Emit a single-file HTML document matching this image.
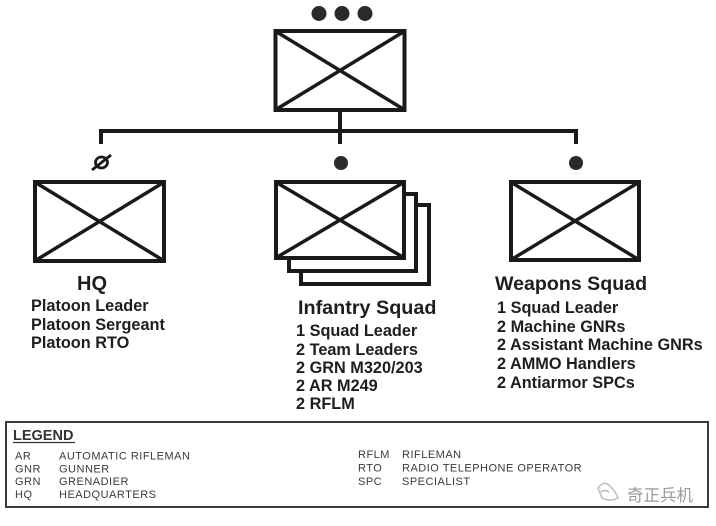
<!DOCTYPE html>
<html><head><meta charset="utf-8"><style>
html,body{margin:0;padding:0;background:#fff;}
svg{display:block;}
.t{font-family:"Liberation Sans",Arial,sans-serif;font-weight:bold;fill:#1e1e1e;}
.l{font-family:"Liberation Sans",Arial,sans-serif;fill:#3a3a3a;font-size:11px;letter-spacing:0.5px;}
</style></head><body>
<svg width="716" height="526" viewBox="0 0 716 526" xmlns="http://www.w3.org/2000/svg">
<rect width="716" height="526" fill="#fff"/>
<!-- top dots -->
<circle cx="319" cy="13.5" r="7.5" fill="#2a2a2a"/>
<circle cx="342" cy="13.5" r="7.5" fill="#2a2a2a"/>
<circle cx="365" cy="13.5" r="7.5" fill="#2a2a2a"/>
<g stroke="#1a1a1a" fill="none">
<!-- top box -->
<rect x="275.5" y="31" width="129" height="79" stroke-width="4" fill="#fff"/>
<line x1="276" y1="31.5" x2="404" y2="109.5" stroke-width="3.5"/>
<line x1="276" y1="109.5" x2="404" y2="31.5" stroke-width="3.5"/>
<!-- connectors -->
<line x1="340" y1="110" x2="340" y2="144" stroke-width="4"/>
<line x1="99" y1="131" x2="578" y2="131" stroke-width="4"/>
<line x1="101" y1="129" x2="101" y2="144" stroke-width="4"/>
<line x1="576" y1="129" x2="576" y2="144" stroke-width="4"/>
<!-- HQ box -->
<rect x="35" y="182" width="129" height="79" stroke-width="4" fill="#fff"/>
<line x1="35.5" y1="182.5" x2="163.5" y2="260.5" stroke-width="3.5"/>
<line x1="35.5" y1="260.5" x2="163.5" y2="182.5" stroke-width="3.5"/>
<!-- infantry stacked -->
<rect x="301" y="205" width="128" height="79" stroke-width="4" fill="#fff"/>
<rect x="289" y="194" width="127" height="77" stroke-width="4" fill="#fff"/>
<rect x="276" y="182" width="128" height="76" stroke-width="4" fill="#fff"/>
<line x1="276.5" y1="182.5" x2="403.5" y2="257.5" stroke-width="3.5"/>
<line x1="276.5" y1="257.5" x2="403.5" y2="182.5" stroke-width="3.5"/>
<!-- weapons box -->
<rect x="511" y="182" width="128" height="78" stroke-width="4" fill="#fff"/>
<line x1="511.5" y1="182.5" x2="638.5" y2="259.5" stroke-width="3.5"/>
<line x1="511.5" y1="259.5" x2="638.5" y2="182.5" stroke-width="3.5"/>
<!-- null symbol -->
<ellipse cx="101.5" cy="162.5" rx="6" ry="5.5" stroke-width="2.8"/>
<line x1="92" y1="170" x2="111" y2="155" stroke-width="2.8"/>
</g>
<circle cx="341" cy="163" r="7" fill="#2a2a2a"/>
<circle cx="576" cy="163" r="7" fill="#2a2a2a"/>
<!-- HQ text -->
<text class="t" x="92" y="290" font-size="20" text-anchor="middle">HQ</text>
<text class="t" x="31" y="311" font-size="16.3">Platoon Leader</text>
<text class="t" x="31" y="330" font-size="16.3">Platoon Sergeant</text>
<text class="t" x="31" y="348" font-size="16.3">Platoon RTO</text>
<!-- Infantry text -->
<text class="t" x="298" y="314" font-size="19.8">Infantry Squad</text>
<text class="t" x="296" y="336" font-size="16.3">1 Squad Leader</text>
<text class="t" x="296" y="355" font-size="16.3">2 Team Leaders</text>
<text class="t" x="296" y="373" font-size="16.3">2 GRN M320/203</text>
<text class="t" x="296" y="391" font-size="16.3">2 AR M249</text>
<text class="t" x="296" y="409" font-size="16.3">2 RFLM</text>
<!-- Weapons text -->
<text class="t" x="495" y="290" font-size="19.6">Weapons Squad</text>
<text class="t" x="497" y="313" font-size="16.3">1 Squad Leader</text>
<text class="t" x="497" y="332" font-size="16.3">2 Machine GNRs</text>
<text class="t" x="497" y="350" font-size="16.3">2 Assistant Machine GNRs</text>
<text class="t" x="497" y="369" font-size="16.3">2 AMMO Handlers</text>
<text class="t" x="497" y="388" font-size="16.3">2 Antiarmor SPCs</text>
<!-- legend -->
<rect x="6" y="422" width="702" height="85" fill="#fff" stroke="#3a3a3a" stroke-width="2"/>
<text x="13" y="440" font-family="Liberation Sans,Arial,sans-serif" font-weight="bold" font-size="14.5" fill="#333">LEGEND</text>
<line x1="13" y1="442.5" x2="75" y2="442.5" stroke="#333" stroke-width="1.2"/>
<text class="l" x="15" y="459.5">AR</text>
<text class="l" x="59" y="459.5">AUTOMATIC RIFLEMAN</text>
<text class="l" x="15" y="472.5">GNR</text>
<text class="l" x="59" y="472.5">GUNNER</text>
<text class="l" x="15" y="485">GRN</text>
<text class="l" x="59" y="485">GRENADIER</text>
<text class="l" x="15" y="498">HQ</text>
<text class="l" x="59" y="498">HEADQUARTERS</text>
<text class="l" x="358" y="458">RFLM</text>
<text class="l" x="402" y="458">RIFLEMAN</text>
<text class="l" x="358" y="471.5">RTO</text>
<text class="l" x="402" y="471.5">RADIO TELEPHONE OPERATOR</text>
<text class="l" x="358" y="485">SPC</text>
<text class="l" x="402" y="485">SPECIALIST</text>
<!-- watermark -->
<g stroke="#bbb" fill="none" stroke-width="1.5">
<path d="M598 488 q6 -8 12 -2 q6 6 8 12 q-8 4 -16 0 z"/>
<path d="M601 492 q4 -3 8 0"/>
</g>
<text x="627" y="501" font-family="Liberation Sans,'Noto Sans CJK SC',sans-serif" font-size="16.5" fill="#9a9a9a">奇正兵机</text>
</svg>
</body></html>
